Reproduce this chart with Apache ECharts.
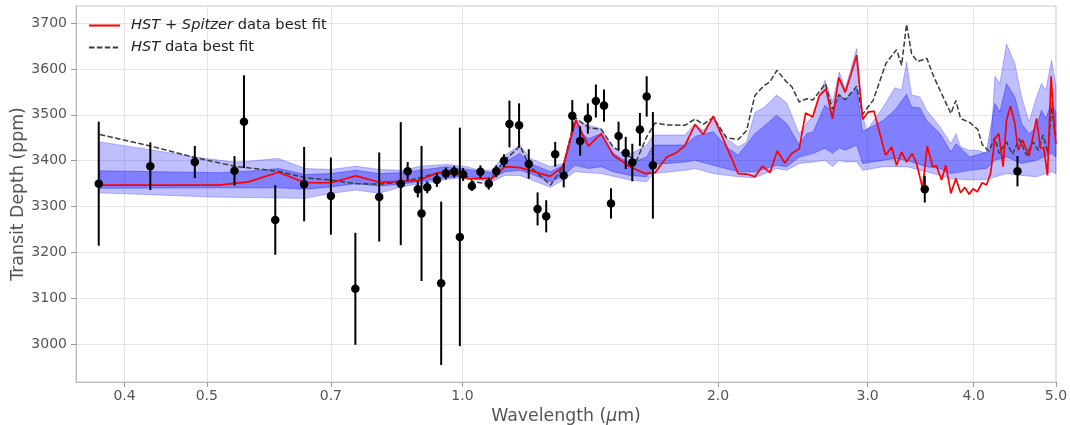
<!DOCTYPE html>
<html><head><meta charset="utf-8">
<script src="https://cdn.jsdelivr.net/npm/echarts@6/dist/echarts.min.js"></script>
<style>html,body{margin:0;padding:0;background:#fff}#c{width:1070px;height:425px}</style>
</head><body><div id="c"></div>
<script>
// ---- axis ticks / ranges ----
const xTicks = [0.4, 0.5, 0.7, 1.0, 2.0, 3.0, 4.0, 5.0];
const yTicks = [3000, 3100, 3200, 3300, 3400, 3500, 3600, 3700];
const xRange = [0.3507, 5.0];
const yRange = [2918, 3737];

// ---- observed transit depths (um, ppm, +/- ppm) ----
const obsWave = [0.373,0.429,0.484,0.539,0.553,0.602,0.651,0.700,0.748,0.798,0.846,0.862,0.886,0.895,0.909,0.933,0.944,0.956,0.978,0.993,1.002,1.026,1.050,1.074,1.096,1.119,1.136,1.166,1.197,1.226,1.255,1.286,1.316,1.347,1.376,1.405,1.436,1.468,1.496,1.527,1.557,1.585,1.618,1.648,1.676,3.503,4.504];
const obsDepth = [3350,3388,3397,3378,3485,3271,3349,3323,3121,3321,3350,3377,3338,3285,3342,3358,3133,3372,3376,3234,3370,3345,3376,3350,3377,3400,3480,3477,3393,3295,3279,3414,3368,3498,3443,3492,3530,3520,3307,3454,3417,3396,3468,3540,3390,3338,3377];
const obsErr = [135,52,35,32,101,76,81,84,122,97,134,20,18,147,13,15,178,13,13,238,14,11,14,13,13,14,51,48,32,36,35,27,26,34,32,33,36,35,33,31,35,41,36,44,116,29,33];

// ---- HST + Spitzer best fit [um, ppm] ----
const fitAll = [[0.374,3347],[0.516,3347],[0.560,3354],[0.607,3375],[0.653,3352],[0.700,3352],[0.749,3367],[0.798,3353],[0.847,3355],[0.887,3357],[0.937,3374],[1.002,3368],[1.012,3361],[1.083,3361],[1.122,3387],[1.169,3385],[1.268,3366],[1.314,3387],[1.360,3488],[1.407,3432],[1.457,3459],[1.505,3412],[1.575,3387],[1.640,3372],[1.686,3374],[1.740,3408],[1.788,3418],[1.828,3433],[1.879,3479],[1.921,3457],[1.974,3497],[2.112,3372],[2.161,3371],[2.210,3365],[2.256,3388],[2.302,3374],[2.348,3421],[2.397,3395],[2.443,3416],[2.492,3426],[2.536,3504],[2.584,3495],[2.632,3542],[2.680,3556],[2.727,3491],[2.775,3581],[2.823,3549],[2.867,3588],[2.912,3630],[2.960,3490],[3.004,3506],[3.052,3508],[3.150,3412],[3.202,3430],[3.245,3390],[3.290,3419],[3.334,3397],[3.386,3416],[3.426,3394],[3.482,3340],[3.526,3432],[3.578,3388],[3.617,3388],[3.666,3358],[3.709,3390],[3.760,3329],[3.811,3361],[3.860,3330],[3.905,3342],[3.951,3327],[3.994,3339],[4.038,3332],[4.092,3352],[4.141,3347],[4.187,3372],[4.236,3448],[4.282,3459],[4.332,3387],[4.372,3488],[4.420,3519],[4.472,3481],[4.512,3423],[4.566,3445],[4.648,3410],[4.743,3492],[4.794,3428],[4.837,3428],[4.886,3368],[4.934,3584],[4.975,3474],[5.0,3437]];

// ---- HST-only best fit [um, ppm] ----
const fitHst = [[0.374,3457],[0.429,3432],[0.484,3407],[0.539,3388],[0.607,3377],[0.653,3363],[0.700,3358],[0.749,3350],[0.798,3349],[0.847,3353],[0.892,3363],[0.937,3374],[0.976,3379],[1.012,3366],[1.030,3354],[1.073,3350],[1.097,3379],[1.122,3401],[1.169,3432],[1.201,3387],[1.270,3347],[1.314,3387],[1.357,3494],[1.407,3472],[1.457,3468],[1.505,3430],[1.561,3412],[1.604,3401],[1.648,3452],[1.686,3482],[1.740,3478],[1.828,3477],[1.879,3491],[1.921,3479],[1.974,3494],[2.047,3450],[2.112,3446],[2.161,3466],[2.210,3542],[2.261,3562],[2.302,3572],[2.346,3597],[2.404,3573],[2.443,3561],[2.492,3528],[2.543,3535],[2.586,3532],[2.676,3568],[2.727,3512],[2.775,3544],[2.823,3533],[2.912,3562],[2.960,3501],[3.046,3532],[3.153,3612],[3.245,3642],[3.290,3608],[3.334,3697],[3.380,3633],[3.434,3616],[3.523,3623],[3.584,3586],[3.666,3546],[3.760,3503],[3.811,3531],[3.860,3492],[3.959,3483],[4.045,3468],[4.094,3435],[4.168,3421],[4.236,3450],[4.285,3416],[4.372,3441],[4.444,3414],[4.524,3448],[4.616,3412],[4.699,3441],[4.763,3423],[4.828,3456],[4.894,3416],[4.940,3517],[4.984,3463],[5.0,3456]];

// ---- credible bands [um, ppm] ----
const band2Up = [[0.374,3441],[0.429,3424],[0.484,3408],[0.539,3397],[0.560,3399],[0.607,3405],[0.653,3383],[0.700,3381],[0.749,3388],[0.798,3381],[0.847,3379],[0.892,3388],[0.958,3392],[1.012,3387],[1.049,3379],[1.083,3379],[1.122,3412],[1.169,3434],[1.201,3405],[1.270,3387],[1.314,3394],[1.357,3490],[1.407,3477],[1.457,3470],[1.505,3427],[1.561,3410],[1.648,3434],[1.678,3456],[1.828,3456],[1.879,3480],[1.921,3466],[1.974,3492],[2.047,3448],[2.112,3430],[2.161,3441],[2.210,3505],[2.265,3516],[2.344,3543],[2.409,3526],[2.492,3458],[2.543,3481],[2.589,3499],[2.672,3575],[2.728,3528],[2.778,3593],[2.823,3556],[2.912,3644],[2.960,3499],[2.992,3466],[3.130,3517],[3.230,3559],[3.290,3554],[3.334,3615],[3.380,3543],[3.457,3539],[3.520,3510],[3.650,3474],[3.760,3437],[3.811,3459],[3.860,3430],[3.951,3423],[4.038,3423],[4.141,3416],[4.187,3423],[4.236,3584],[4.294,3568],[4.372,3654],[4.472,3612],[4.554,3539],[4.648,3485],[4.743,3539],[4.807,3568],[4.864,3554],[4.940,3619],[5.0,3561]];
const band1Up = [[0.374,3378],[0.516,3374],[0.560,3377],[0.607,3383],[0.653,3370],[0.700,3372],[0.749,3379],[0.798,3372],[0.847,3374],[0.958,3387],[1.012,3381],[1.083,3374],[1.122,3397],[1.169,3416],[1.201,3394],[1.270,3376],[1.314,3390],[1.357,3481],[1.375,3463],[1.407,3448],[1.457,3459],[1.505,3416],[1.575,3394],[1.648,3408],[1.678,3434],[1.828,3434],[1.879,3453],[1.974,3463],[2.047,3430],[2.112,3412],[2.210,3459],[2.265,3475],[2.344,3499],[2.409,3481],[2.492,3434],[2.543,3459],[2.589,3463],[2.672,3521],[2.728,3506],[2.778,3543],[2.823,3532],[2.912,3558],[2.960,3463],[3.130,3488],[3.230,3510],[3.334,3545],[3.380,3517],[3.457,3515],[3.520,3488],[3.650,3459],[3.760,3419],[3.811,3437],[3.959,3408],[4.141,3419],[4.236,3525],[4.294,3506],[4.372,3568],[4.472,3539],[4.554,3481],[4.648,3459],[4.743,3474],[4.807,3510],[4.864,3492],[4.940,3528],[5.0,3503]];
const band1Lo = [[0.374,3340],[0.516,3341],[0.607,3341],[0.653,3338],[0.700,3343],[0.749,3350],[0.798,3345],[0.847,3349],[0.958,3363],[0.994,3366],[1.083,3361],[1.122,3376],[1.169,3379],[1.201,3372],[1.270,3354],[1.314,3366],[1.357,3390],[1.407,3383],[1.457,3387],[1.505,3376],[1.575,3368],[1.648,3365],[1.686,3392],[1.828,3397],[1.879,3401],[1.974,3390],[2.112,3376],[2.210,3376],[2.344,3390],[2.409,3387],[2.492,3408],[2.589,3416],[2.672,3427],[2.728,3416],[2.778,3428],[2.823,3423],[2.912,3434],[2.960,3394],[3.130,3401],[3.230,3405],[3.334,3401],[3.520,3387],[3.650,3383],[3.760,3372],[3.959,3379],[4.141,3383],[4.236,3401],[4.372,3408],[4.554,3394],[4.743,3401],[4.940,3416],[5.0,3408]];
const band2Lo = [[0.374,3330],[0.505,3321],[0.653,3318],[0.700,3329],[0.749,3336],[0.798,3329],[0.847,3343],[0.958,3359],[0.994,3363],[1.083,3354],[1.122,3368],[1.169,3368],[1.270,3342],[1.314,3358],[1.357,3376],[1.457,3372],[1.575,3358],[1.648,3354],[1.678,3372],[1.828,3379],[1.879,3383],[1.974,3372],[2.112,3365],[2.210,3363],[2.344,3383],[2.409,3379],[2.492,3394],[2.589,3397],[2.672,3401],[2.728,3387],[2.778,3401],[2.823,3397],[2.912,3398],[2.960,3379],[3.130,3387],[3.334,3387],[3.520,3376],[3.760,3361],[3.959,3358],[4.141,3359],[4.372,3372],[4.554,3368],[4.743,3365],[4.940,3376],[5.0,3372]];

const NAME_ALL = 'HST + Spitzer data best fit';
const NAME_HST = 'HST data best fit';
const FONT = 'DejaVu Sans';
const lg = v => Math.log10(v);
const toXY = arr => arr.map(p => [lg(p[0]), p[1]]);

function band(upper, lower, color, z) {
  return {
    type: 'custom', coordinateSystem: 'cartesian2d', silent: true, z: z,
    data: [[lg(upper[0][0]), upper[0][1]]],
    renderItem: (params, api) => {
      const pts = upper.map(p => api.coord([lg(p[0]), p[1]]))
        .concat(lower.slice().reverse().map(p => api.coord([lg(p[0]), p[1]])));
      return { type: 'polygon', shape: { points: pts }, style: { fill: color, stroke: color, lineWidth: 1 } };
    }
  };
}

const chart = echarts.init(document.getElementById('c'), null, { renderer: 'canvas' });
chart.setOption({
  animation: false,
  backgroundColor: '#fff',
  grid: { left: 76, right: 14, top: 6, bottom: 43, containLabel: false, outerBoundsMode: 'none',
    show: true, borderColor: '#c8c8c8', borderWidth: 1 },
  legend: {
    data: [{ name: NAME_ALL }, { name: NAME_HST }], orient: 'vertical', left: 88, top: 18, padding: 0,
    itemWidth: 31, itemHeight: 14, itemGap: 7,
    itemStyle: { opacity: 0 },
    formatter: n => n === NAME_ALL ? '{i|HST} + {i|Spitzer} data best fit' : '{i|HST} data best fit',
    textStyle: { fontFamily: FONT, fontSize: 14.67, color: '#222', padding: [0, 0, 0, 6],
      rich: { i: { fontFamily: FONT, fontSize: 14.67, fontStyle: 'italic', color: '#222' } } }
  },
  xAxis: {
    type: 'value', min: lg(xRange[0]), max: lg(xRange[1]),
    axisLine: { show: true, onZero: false, lineStyle: { color: '#bbb' } },
    axisTick: { show: true, customValues: xTicks.map(lg), length: 5, lineStyle: { color: '#999' } },
    axisLabel: { customValues: xTicks.map(lg), formatter: v => Math.pow(10, v).toFixed(1),
      color: '#555', fontSize: 14, fontFamily: FONT, margin: 7 },
    splitLine: { show: true, lineStyle: { color: '#e5e5e5', width: 1 } },
    name: 'Wavelength ({i|μ}m)', nameLocation: 'middle', nameGap: 26, nameMoveOverlap: false,
    nameTextStyle: { color: '#555', fontSize: 17.33, fontFamily: FONT,
      rich: { i: { color: '#555', fontSize: 17.33, fontFamily: FONT, fontStyle: 'italic' } } }
  },
  yAxis: {
    type: 'value', min: yRange[0], max: yRange[1],
    axisLine: { show: true, onZero: false, lineStyle: { color: '#bbb' } },
    axisTick: { show: true, customValues: yTicks, length: 5, lineStyle: { color: '#999' } },
    axisLabel: { customValues: yTicks, formatter: v => String(Math.round(v)),
      color: '#555', fontSize: 14, fontFamily: FONT, margin: 9 },
    splitLine: { show: true, lineStyle: { color: '#e5e5e5', width: 1 } },
    name: 'Transit Depth (ppm)', nameLocation: 'middle', nameGap: 49, nameMoveOverlap: false,
    nameTextStyle: { color: '#555', fontSize: 17.33, fontFamily: FONT }
  },
  series: [
    band(band2Up, band2Lo, 'rgba(0,0,255,0.25)', 1),
    band(band1Up, band1Lo, 'rgba(0,0,255,0.33)', 1),
    { name: NAME_HST, type: 'line', data: toXY(fitHst), symbol: 'none', showSymbol: false, z: 3,
      lineStyle: { color: '#3c3c3c', width: 1.5, type: [5.5, 2.4] }, itemStyle: { color: '#3c3c3c' } },
    { name: NAME_ALL, type: 'line', data: toXY(fitAll), symbol: 'none', showSymbol: false, z: 3,
      lineStyle: { color: '#ff0000', width: 1.7 }, itemStyle: { color: '#ff0000' } },
    { type: 'custom', z: 5, silent: true,
      data: obsWave.map((w, i) => [lg(w), obsDepth[i] - obsErr[i], obsDepth[i] + obsErr[i]]),
      encode: { x: 0, y: [1, 2] },
      renderItem: (params, api) => {
        const a = api.coord([api.value(0), api.value(1)]);
        const b = api.coord([api.value(0), api.value(2)]);
        return { type: 'line', shape: { x1: a[0], y1: a[1], x2: b[0], y2: b[1] }, style: { stroke: '#000', lineWidth: 2 } };
      } },
    { type: 'scatter', z: 6, silent: true, symbolSize: 8.5,
      data: obsWave.map((w, i) => [lg(w), obsDepth[i]]), itemStyle: { color: '#000', opacity: 1 } }
  ]
});
</script></body></html>
